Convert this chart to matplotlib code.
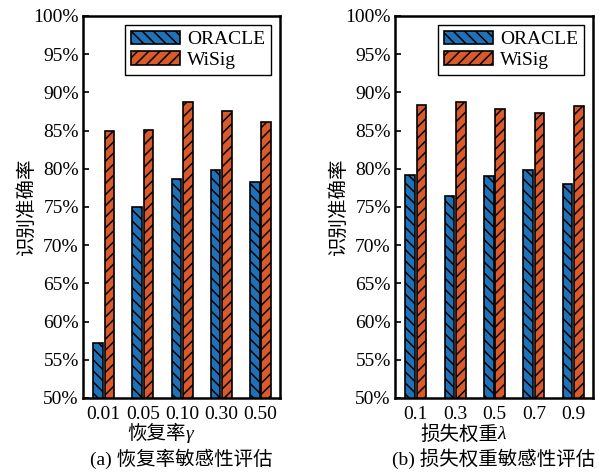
import numpy as np
import matplotlib.pyplot as plt

plt.rcParams['font.family'] = ['Liberation Serif', 'Noto Sans CJK SC']
plt.rcParams['font.size'] = 14
plt.rcParams['hatch.linewidth'] = 1.1

# 恢复率 γ
gamma_labels = ['0.01', '0.05', '0.10', '0.30', '0.50']
gamma_oracle = [57.2, 75.0, 78.7, 79.8, 78.3]
gamma_wisig = [85.0, 85.1, 88.7, 87.5, 86.1]

# 损失权重 λ
lam_labels = ['0.1', '0.3', '0.5', '0.7', '0.9']
lam_oracle = [79.2, 76.5, 79.0, 79.9, 78.0]
lam_wisig = [88.3, 88.7, 87.8, 87.3, 88.2]

c_oracle = '#1f72b8'
c_wisig = '#d95a2b'

fig = plt.figure(figsize=(5.99, 4.73), dpi=100)
ax1 = fig.add_axes([0.1386, 0.1586, 0.329, 0.8076])
ax2 = fig.add_axes([0.6594, 0.1586, 0.3306, 0.8076])


def draw_panel(ax, labels, oracle, wisig, xlabel, sym, caption):
    x = np.arange(1, len(labels) + 1)
    w = 0.245
    ax.bar(x - 0.145, oracle, w, color=c_oracle, edgecolor='black',
           linewidth=1.2, hatch='\\\\\\', label='ORACLE')
    ax.bar(x + 0.145, wisig, w, color=c_wisig, edgecolor='black',
           linewidth=1.2, hatch='///', label='WiSig')
    ax.set_xlim(0.47, 5.5)
    ax.set_ylim(50, 100)
    ax.set_yticks(np.arange(50, 101, 5))
    ax.set_yticklabels([f'{v}%' for v in range(50, 101, 5)])
    ax.set_xticks(x)
    ax.set_xticklabels(labels)
    ax.tick_params(axis='y', direction='in', length=4, width=1.2, pad=3)
    ax.tick_params(axis='x', length=0, pad=6)
    for s in ax.spines.values():
        s.set_linewidth(1.8)
    ax.set_ylabel('识别准确率', labelpad=-2)
    # x 轴标题：中文 + 斜体希腊字母
    ax.text(0.52, -0.095, xlabel, transform=ax.transAxes, ha='right', va='center')
    ax.text(0.52, -0.095, sym, transform=ax.transAxes, ha='left', va='center',
            style='italic')
    ax.text(0.5, -0.16, caption, transform=ax.transAxes, ha='center', va='center')
    leg = ax.legend(loc='upper right', handlelength=2.5, handleheight=0.7,
                    fancybox=False, framealpha=1, edgecolor='black',
                    borderpad=0.3, labelspacing=0.15, handletextpad=0.4,
                    borderaxespad=0.45)
    leg.get_frame().set_linewidth(1.0)


draw_panel(ax1, gamma_labels, gamma_oracle, gamma_wisig,
           '恢复率', 'γ', '(a) 恢复率敏感性评估')
draw_panel(ax2, lam_labels, lam_oracle, lam_wisig,
           '损失权重', 'λ', '(b) 损失权重敏感性评估')

fig.savefig('out.png', dpi=100)
